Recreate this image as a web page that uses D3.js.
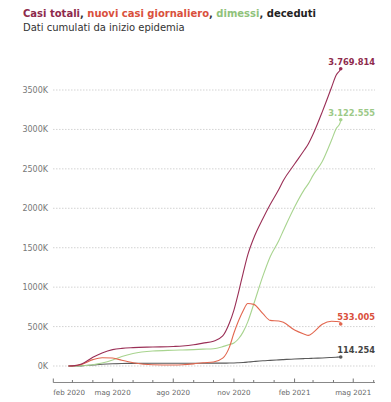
<!DOCTYPE html>
<html><head><meta charset="utf-8">
<script src="https://cdn.jsdelivr.net/npm/d3@7"></script>
<style>
body{margin:0;background:#fff;}
svg{display:block;font-family:"DejaVu Sans",Verdana,sans-serif;}
</style></head>
<body><svg id="c" width="391" height="402"></svg>
<script>
const dates = ["2020-02-24","2020-03-01","2020-03-15","2020-04-01","2020-04-15","2020-05-01","2020-05-15","2020-06-01","2020-07-01","2020-08-01","2020-08-15","2020-09-01","2020-09-15","2020-10-01","2020-10-15","2020-10-25","2020-11-01","2020-11-08","2020-11-15","2020-11-22","2020-12-01","2020-12-15","2020-12-26","2021-01-08","2021-01-15","2021-02-01","2021-02-15","2021-02-22","2021-03-01","2021-03-15","2021-03-29","2021-04-05","2021-04-11","2021-04-12"];
const casiTotali = [229,1694,24747,110574,165155,207428,223885,233019,240760,247832,253438,269214,289990,314861,381602,542789,709335,935104,1178529,1408868,1620901,1870576,2047696,2237890,2352423,2560957,2729223,2818863,2938371,3223142,3532057,3686707,3754077,3769814];
const attualmentePositivi = [221,1577,20603,80572,105418,100943,72070,42075,15563,12646,15089,26754,41413,51263,99266,236684,418142,573235,701817,791746,781169,663313,578458,570974,553374,455185,406302,387948,423397,528462,568000,565000,559000,533005];
const dimessi = [1,83,2335,16847,38092,75945,120205,158355,190248,199974,203326,207944,213634,219670,245964,272352,292380,345289,432686,559934,783606,1142733,1386000,1589000,1717698,2016817,2227240,2313195,2417482,2592636,2862000,3009000,3081000,3122555];
const deceduti = [7,34,1809,13155,21645,28236,31610,33475,34767,35146,35234,35491,35668,35918,36427,37338,38618,41750,45229,49823,56361,65857,71359,77911,81325,89344,93835,95718,97945,102145,108350,111747,113923,114254];
const yTicks = [0,500000,1000000,1500000,2000000,2500000,3000000,3500000];
const xTickLabels = ["feb 2020","mag 2020","ago 2020","nov 2020","feb 2021","mag 2021"];

const series = [
  {name:"deceduti", values:deceduti, color:"#5a5a5a", label:"#444"},
  {name:"dimessi", values:dimessi, color:"#a8d48f", label:"#9cc987"},
  {name:"positivi", values:attualmentePositivi, color:"#e2674f", label:"#d9503c"},
  {name:"totali", values:casiTotali, color:"#9a2f56", label:"#8e2a4c"}
];

const parse = d3.timeParse("%Y-%m-%d");
const dts = dates.map(parse);
const svg = d3.select("#c");

const x = d3.scaleTime().domain([new Date(2020,1,1), new Date(2021,5,3)]).range([53.3, 375]);
const y = d3.scaleLinear().domain([0,3500000]).range([366, 90]);

// title
const t = svg.append("text").attr("x",23).attr("y",17.3).attr("font-size",10).attr("font-weight","bold");
t.append("tspan").attr("fill","#8e2a4c").text("Casi totali");
t.append("tspan").attr("fill","#333").text(", ");
t.append("tspan").attr("fill","#d9503c").text("nuovi casi giornaliero");
t.append("tspan").attr("fill","#333").text(", ");
t.append("tspan").attr("fill","#8fc27a").text("dimessi");
t.append("tspan").attr("fill","#333").text(", ");
t.append("tspan").attr("fill","#222").text("deceduti");
svg.append("text").attr("x",23).attr("y",30.7).attr("font-size",10).attr("fill","#333").text("Dati cumulati da inizio epidemia");

// grid
const gy = svg.append("g");
gy.selectAll("line").data(yTicks).join("line")
  .attr("x1",53).attr("x2",375).attr("y1",d=>y(d)).attr("y2",d=>y(d))
  .attr("stroke","#c8c8c8").attr("stroke-width",0.8).attr("stroke-dasharray","1.5,1.5");
gy.selectAll("text").data(yTicks).join("text")
  .attr("x",48).attr("y",d=>y(d)+3).attr("text-anchor","end")
  .attr("font-size",8).attr("fill","#777").text(d=>(d/1000)+"K");

// x axis
const months = d3.timeMonth.range(new Date(2020,1,1), new Date(2021,5,2));
const ax = svg.append("g");
ax.append("line").attr("x1",53.3).attr("x2",375).attr("y1",382.5).attr("y2",382.5).attr("stroke","#888").attr("stroke-width",1.2);
ax.selectAll("line.t").data(months).join("line").attr("class","t")
  .attr("x1",d=>x(d)).attr("x2",d=>x(d))
  .attr("y1",382.5).attr("y2",d=>d.getMonth()%3===1?378.5:380)
  .attr("stroke","#777").attr("stroke-width",1);
const major = months.filter(d=>d.getMonth()%3===1);
ax.selectAll("text").data(major).join("text")
  .attr("x",(d,i)=>x(d)).attr("y",395)
  .attr("text-anchor",(d,i)=>i===0?"start":"middle")
  .attr("font-size",7.1).attr("fill","#666").text((d,i)=>xTickLabels[i]);

// lines
const line = d3.line().x((d,i)=>x(dts[i])).y(d=>y(d)).curve(d3.curveMonotoneX);
series.forEach(s=>{
  svg.append("path").datum(s.values).attr("d",line).attr("fill","none")
    .attr("stroke",s.color).attr("stroke-width",1.1);
  const last = s.values.length-1;
  svg.append("circle").attr("cx",x(dts[last])).attr("cy",y(s.values[last])).attr("r",1.8).attr("fill",s.color);
  svg.append("text").attr("x",375).attr("y",y(s.values[last])-4)
    .attr("text-anchor","end").attr("font-size",8.3).attr("font-weight","bold")
    .attr("fill",s.label).text(d3.format(",")(s.values[last]).replace(/,/g,"."));
});
</script></body></html>
